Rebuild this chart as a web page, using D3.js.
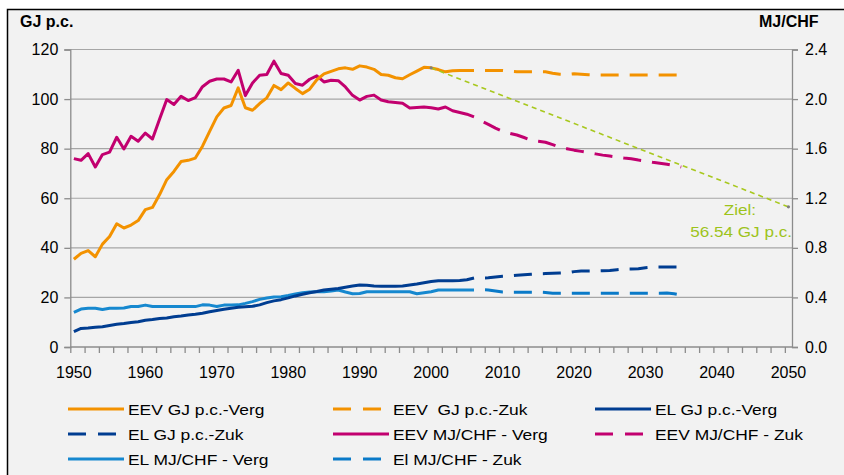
<!DOCTYPE html>
<html>
<head>
<meta charset="utf-8">
<script src="https://cdn.jsdelivr.net/npm/d3@7"></script>
<style>
	body { margin: 0; background: #fff; }
	svg text { font-family: "Liberation Sans", Arial, sans-serif; fill: #000; white-space: pre; }
</style>
</head>
<body>
<div id="chart"></div>
<script>
// historical years 1950-2006, outlook years 2006-2035
var histYears = d3.range(1950, 2007);
var zukYears = d3.range(2006, 2036);

// EEV, GJ per capita (left axis)
var eevGJVerg = [35.4, 37.8, 38.9, 36.4, 41.5, 44.6, 49.7, 48.0, 49.2, 51.0,
	55.4, 56.3, 61.5, 67.5, 70.8, 74.8, 75.3, 76.2, 81.0, 87.0,
	92.8, 96.4, 97.4, 104.5, 96.5, 95.5, 98.2, 100.5, 105.5, 103.8,
	106.5, 104.3, 102.2, 104.0, 107.8, 110.2, 111.2, 112.2, 112.6, 112.0,
	113.4, 112.9, 112.0, 109.9, 109.6, 108.6, 108.2, 109.8, 111.3, 112.8,
	112.6, 111.9, 111.0, 111.4, 111.5, 111.5, 111.5];
var eevGJZuk = [111.5, 111.5, 111.5, 111.5, 111.5, 111.2, 111.0, 111.0, 111.0, 111.0,
	111.0, 110.4, 110.0, 109.9, 110.2, 110.0, 109.8, 109.7, 109.7, 109.7,
	109.7, 109.7, 109.7, 109.7, 109.7, 109.7, 109.7, 109.7, 109.7, 109.7];

// EL, GJ per capita (left axis)
var elGJVerg = [6.2, 7.5, 7.7, 8.0, 8.2, 8.7, 9.2, 9.5, 9.9, 10.2,
	10.8, 11.1, 11.5, 11.7, 12.2, 12.5, 12.9, 13.2, 13.6, 14.2,
	14.7, 15.2, 15.6, 16.0, 16.2, 16.4, 17.0, 17.9, 18.6, 19.1,
	19.8, 20.6, 21.3, 21.9, 22.4, 23.0, 23.3, 23.6, 24.1, 24.6,
	25.0, 24.9, 24.6, 24.5, 24.5, 24.5, 24.6, 25.0, 25.4, 25.9,
	26.4, 26.7, 26.7, 26.7, 26.8, 27.1, 27.8];
var elGJZuk = [27.8, 27.8, 27.9, 28.2, 28.5, 28.7, 28.9, 29.1, 29.3, 29.5,
	29.6, 29.7, 29.8, 29.9, 30.4, 30.7, 30.7, 30.7, 30.8, 30.9,
	31.2, 31.5, 31.5, 31.6, 32.0, 32.3, 32.3, 32.3, 32.3, 32.3];

// EEV, MJ per CHF (right axis)
var eevMJVerg = [1.520, 1.506, 1.560, 1.452, 1.552, 1.572, 1.692, 1.598, 1.700, 1.660,
	1.726, 1.678, 1.840, 1.996, 1.956, 2.022, 1.988, 2.012, 2.100, 2.144,
	2.162, 2.162, 2.138, 2.232, 2.028, 2.130, 2.192, 2.198, 2.306, 2.206,
	2.192, 2.126, 2.112, 2.160, 2.188, 2.138, 2.152, 2.148, 2.098, 2.030,
	1.992, 2.022, 2.032, 1.992, 1.978, 1.972, 1.966, 1.928, 1.932, 1.936,
	1.930, 1.920, 1.936, 1.906, 1.892, 1.878, 1.856];
var eevMJZuk = [1.856, 1.824, 1.796, 1.766, 1.740, 1.724, 1.710, 1.690, 1.668, 1.660,
	1.652, 1.632, 1.612, 1.600, 1.588, 1.578, 1.568, 1.558, 1.548, 1.540,
	1.532, 1.524, 1.518, 1.508, 1.500, 1.490, 1.482, 1.474, 1.464, 1.452];

// EL, MJ per CHF (right axis)
var elMJVerg = [0.280, 0.306, 0.312, 0.312, 0.302, 0.312, 0.312, 0.314, 0.326, 0.326,
	0.338, 0.326, 0.326, 0.326, 0.326, 0.326, 0.326, 0.326, 0.340, 0.338,
	0.326, 0.338, 0.338, 0.340, 0.352, 0.366, 0.384, 0.396, 0.404, 0.406,
	0.416, 0.428, 0.438, 0.444, 0.446, 0.446, 0.452, 0.460, 0.444, 0.430,
	0.432, 0.446, 0.446, 0.446, 0.446, 0.446, 0.446, 0.446, 0.430, 0.438,
	0.446, 0.460, 0.460, 0.460, 0.460, 0.460, 0.460];
var elMJZuk = [0.460, 0.462, 0.460, 0.452, 0.444, 0.442, 0.442, 0.442, 0.442, 0.442,
	0.440, 0.434, 0.434, 0.434, 0.434, 0.434, 0.434, 0.434, 0.434, 0.434,
	0.434, 0.434, 0.434, 0.434, 0.434, 0.434, 0.434, 0.436, 0.430, 0.420];

// target line (GJ p.c.)
var zielYears = [2000, 2050];
var zielValues = [112.6, 56.54];

var xLabels = [1950, 1960, 1970, 1980, 1990, 2000, 2010, 2020, 2030, 2040, 2050];
var leftTicks = [0, 20, 40, 60, 80, 100, 120];
var rightTicks = [0, 0.4, 0.8, 1.2, 1.6, 2.0, 2.4];

var W = 844, H = 475;
var colOrange = "#f39200", colMagenta = "#c2006f", colDark = "#003d91", colLight = "#1688cf", colLight2 = "#0a7ac8", colZiel = "#a8c81e";

var svg = d3.select("#chart").append("svg")
	.attr("width", W)
	.attr("height", H);

svg.append("rect")
	.attr("x", 7.5).attr("y", 9.5)
	.attr("width", 843).attr("height", 475)
	.attr("fill", "#f2f2f2")
	.attr("stroke", "#000").attr("stroke-width", 1.5);

var x = d3.scaleLinear().domain([1949.5, 2050.5]).range([70.3, 792]);
var yL = d3.scaleLinear().domain([0, 120]).range([347, 49.5]);
var yR = d3.scaleLinear().domain([0, 2.4]).range([347, 49.5]);

// gridlines
svg.append("g").selectAll("line").data(leftTicks.slice(1)).join("line")
	.attr("x1", x.range()[0]).attr("x2", x.range()[1])
	.attr("y1", function (d) { return yL(d); }).attr("y2", function (d) { return yL(d); })
	.attr("stroke", "#a6a6a6").attr("stroke-width", 1.2);

// left axis
var axL = svg.append("g").attr("transform", "translate(" + x.range()[0] + ",0)")
	.call(d3.axisLeft(yL).tickValues(leftTicks).tickSize(6).tickPadding(6));
// right axis
var axR = svg.append("g").attr("transform", "translate(" + x.range()[1] + ",0)")
	.call(d3.axisRight(yR).tickValues(rightTicks).tickSize(6).tickPadding(7).tickFormat(d3.format(".1f")));
// x axis: ticks every 2 years at category boundaries
var tickYears = d3.range(1949.5, 2050, 2);
var axX = svg.append("g").attr("transform", "translate(0," + yL(0) + ")")
	.call(d3.axisBottom(x).tickValues(tickYears).tickSize(6).tickFormat(""));
svg.append("g").selectAll("text").data(xLabels).join("text")
	.attr("x", function (d) { return x(d); })
	.attr("y", yL(0) + 31)
	.attr("text-anchor", "middle")
	.style("font-size", "16px")
	.text(function (d) { return d; });

[axL, axR, axX].forEach(function (a) {
	a.select(".domain").attr("stroke", "#8c8c8c").attr("stroke-width", 1.3);
	a.selectAll(".tick line").attr("stroke", "#8c8c8c").attr("stroke-width", 1.3);
	a.selectAll(".tick text").style("font-size", "16px").attr("fill", "#000");
});
axX.select(".domain").attr("d", "M" + x.range()[0] + ",0H" + x.range()[1]);

svg.append("text").attr("x", 20).attr("y", 27)
	.style("font-size", "16px").style("font-weight", "bold").text("GJ p.c.");
svg.append("text").attr("x", 759).attr("y", 27)
	.style("font-size", "16px").style("font-weight", "bold").text("MJ/CHF");

function series(years, values) {
	return years.map(function (yr, i) { return { year: yr, v: values[i] }; });
}

function drawLine(data, yScale, color, dashed) {
	var line = d3.line()
		.x(function (d) { return x(d.year); })
		.y(function (d) { return yScale(d.v); });
	var p = svg.append("path")
		.datum(data)
		.attr("d", line)
		.attr("fill", "none")
		.attr("stroke", color)
		.attr("stroke-width", 3)
		.attr("stroke-linejoin", "round");
	if (dashed) p.attr("stroke-dasharray", "18,11").attr("stroke-dashoffset", 18);
	return p;
}

drawLine(series(histYears, elMJVerg), yR, colLight, false);
drawLine(series(zukYears, elMJZuk), yR, colLight2, true);
drawLine(series(histYears, elGJVerg), yL, colDark, false);
drawLine(series(zukYears, elGJZuk), yL, colDark, true);
drawLine(series(histYears, eevMJVerg), yR, colMagenta, false);
drawLine(series(zukYears, eevMJZuk), yR, colMagenta, true);
drawLine(series(histYears, eevGJVerg), yL, colOrange, false);
drawLine(series(zukYears, eevGJZuk), yL, colOrange, true);

// target line
var ziel = series(zielYears, zielValues);
svg.append("path").datum(ziel)
	.attr("d", d3.line().x(function (d) { return x(d.year); }).y(function (d) { return yL(d.v); }))
	.attr("fill", "none").attr("stroke", colZiel)
	.attr("stroke-width", 1.6).attr("stroke-dasharray", "5,4");
svg.selectAll(".zielpt").data(ziel).join("circle")
	.attr("class", "zielpt")
	.attr("cx", function (d) { return x(d.year); })
	.attr("cy", function (d) { return yL(d.v); })
	.attr("r", 1.6).attr("fill", "#7f7f7f");

function stretch(sel, f) {
	sel.each(function () {
		var w = this.getComputedTextLength();
		d3.select(this).attr("textLength", w * f).attr("lengthAdjust", "spacingAndGlyphs");
	});
}

var zt = svg.append("g");
zt.append("text").attr("x", 756).attr("y", 215).attr("text-anchor", "end")
	.style("font-size", "15px").style("fill", "#9dc31b").text("Ziel:");
zt.append("text").attr("x", 792).attr("y", 237).attr("text-anchor", "end")
	.style("font-size", "15px").style("fill", "#9dc31b").text("56.54 GJ p.c.");
stretch(zt.selectAll("text"), 1.14);

// legend
var legNames = ["EEV GJ p.c.-Verg", "EEV  GJ p.c.-Zuk", "EL GJ p.c.-Verg",
	"EL GJ p.c.-Zuk", "EEV MJ/CHF - Verg", "EEV MJ/CHF - Zuk",
	"EL MJ/CHF - Verg", "El MJ/CHF - Zuk"];
var legColors = [colOrange, colOrange, colDark, colDark, colMagenta, colMagenta, colLight, colLight2];
var legDashed = [false, true, false, true, false, true, false, true];
var legColX = [68, 333, 595], legRowY = [409, 434, 459];

var leg = svg.append("g").selectAll("g").data(legNames).join("g")
	.attr("transform", function (d, i) { return "translate(" + legColX[i % 3] + "," + legRowY[Math.floor(i / 3)] + ")"; });
leg.append("line")
	.attr("x1", 0).attr("x2", 56).attr("y1", 0).attr("y2", 0)
	.attr("stroke", function (d, i) { return legColors[i]; })
	.attr("stroke-width", 3)
	.attr("stroke-dasharray", function (d, i) { return legDashed[i] ? "18,12" : null; });
leg.append("text")
	.attr("x", 60).attr("y", 5.5)
	.style("font-size", "15px")
	.text(function (d) { return d; });
stretch(leg.selectAll("text"), 1.16);
</script>
</body>
</html>
